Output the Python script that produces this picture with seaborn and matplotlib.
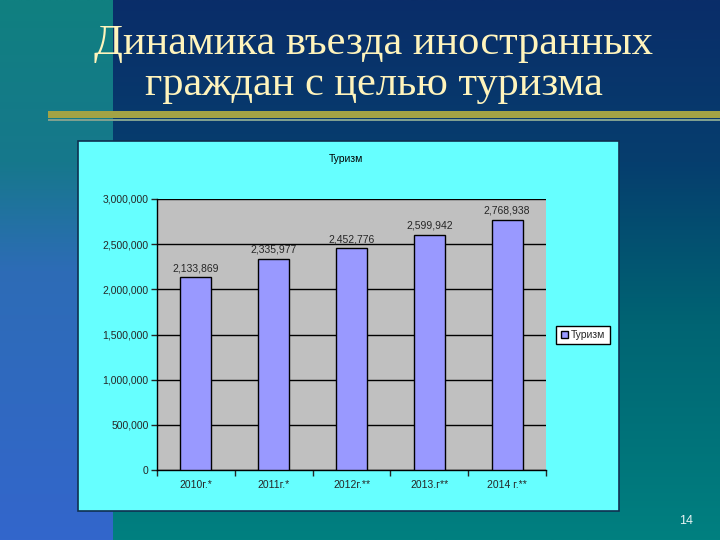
import numpy as np
import matplotlib
matplotlib.use('Agg')
import matplotlib.pyplot as plt
from matplotlib.patches import Rectangle, Patch
import seaborn as sns

# данные
years = ['2010г.*', '2011г.*', '2012г.**', '2013.г**', '2014 г.**']
tourists = [2133869, 2335977, 2452776, 2599942, 2768938]
y_ticks = [0, 500000, 1000000, 1500000, 2000000, 2500000, 3000000]
series_name = 'Туризм'
title_lines = ['Динамика въезда иностранных', 'граждан с целью туризма']
page_no = '14'

sns.set_style('ticks')
plt.rcParams['font.family'] = ['Liberation Sans', 'DejaVu Sans']

W, H = 720, 540
fig = plt.figure(figsize=(7.2, 5.4), dpi=100)

# ---------- фон слайда ----------
bg = fig.add_axes([0, 0, 1, 1])
bg.set_xlim(0, W)
bg.set_ylim(H, 0)
bg.axis('off')


def vgrad(stops, colors, n=256):
    t = np.linspace(0, 1, n)
    cols = np.array(colors, dtype=float) / 255
    arr = np.stack([np.interp(t, stops, cols[:, k]) for k in range(3)], axis=-1)
    return arr[:, None, :]


left = vgrad([0, 0.3, 0.5, 1], [(16, 128, 128), (22, 120, 140), (45, 108, 182), (51, 102, 204)])
right = vgrad([0, 0.3, 0.6, 1], [(10, 45, 105), (6, 62, 110), (0, 100, 115), (0, 128, 128)])
bg.imshow(left, extent=[0, 113, H, 0], aspect='auto', interpolation='bilinear', zorder=0)
bg.imshow(right, extent=[113, W, H, 0], aspect='auto', interpolation='bilinear', zorder=0)

# оливковая линия под заголовком
bg.add_patch(Rectangle((48, 111), W - 48, 7, facecolor='#A3A345', edgecolor='none', zorder=1))
bg.add_patch(Rectangle((48, 119), W - 48, 1.5, facecolor='#7FA08F', edgecolor='none', zorder=1))

# заголовок
bg.text(374, 54, title_lines[0], ha='center', va='baseline', fontsize=30.5,
        family='Liberation Serif', color='#FFF4BC', zorder=2)
bg.text(374, 95, title_lines[1], ha='center', va='baseline', fontsize=30.5,
        family='Liberation Serif', color='#FFF4BC', zorder=2)

# область диаграммы
bg.add_patch(Rectangle((78, 141), 541, 370, facecolor='#66FFFF', edgecolor='#103050',
                       linewidth=1.2, zorder=1))
bg.text(346, 159, series_name, ha='center', va='center', fontsize=7.5, color='black', zorder=2)

# номер слайда
bg.text(686, 521, page_no, ha='center', va='center', fontsize=9, color='#E8F4F4', zorder=2)

# ---------- график ----------
ax = fig.add_axes([157 / W, 1 - 470 / H, 389 / W, 271 / H])
ax.set_facecolor('#C0C0C0')

sns.barplot(x=years, y=tourists, color='#9999FF', saturation=1, width=0.4,
            edgecolor='black', linewidth=1, ax=ax, zorder=3)

ax.set_xlim(-0.5, len(years) - 0.5)
ax.set_ylim(0, 3000000)
ax.set_yticks(y_ticks)
ax.set_yticklabels([f'{v:,}' for v in y_ticks], fontsize=7.5)
ax.set_axisbelow(True)
ax.yaxis.grid(True, color='black', linewidth=1)
ax.xaxis.grid(False)

ax.bar_label(ax.containers[0], labels=[f'{v:,}' for v in tourists], padding=3, fontsize=7.5)

ax.tick_params(axis='x', which='major', length=0, labelsize=7.5, pad=7)
ax.set_xticks(np.arange(-0.5, len(years)), minor=True)
ax.tick_params(axis='x', which='minor', length=4, width=1, direction='out')
ax.tick_params(axis='y', length=4, width=1, direction='out', pad=2)
ax.set_xlabel('')
ax.set_ylabel('')

for s in ['top', 'right']:
    ax.spines[s].set_visible(False)
for s in ['left', 'bottom']:
    ax.spines[s].set_color('black')
    ax.spines[s].set_linewidth(1)

# легенда
handle = Patch(facecolor='#9999FF', edgecolor='black')
leg = ax.legend(handles=[handle], labels=[series_name], loc='center',
                bbox_to_anchor=(583 / W, 1 - 335 / H), bbox_transform=fig.transFigure,
                frameon=True, fancybox=False, edgecolor='black', facecolor='white',
                framealpha=1, fontsize=7.5, handlelength=0.7, handleheight=0.7,
                borderpad=0.4, handletextpad=0.3)
leg.get_frame().set_linewidth(1)

fig.savefig('out.png', dpi=100)
